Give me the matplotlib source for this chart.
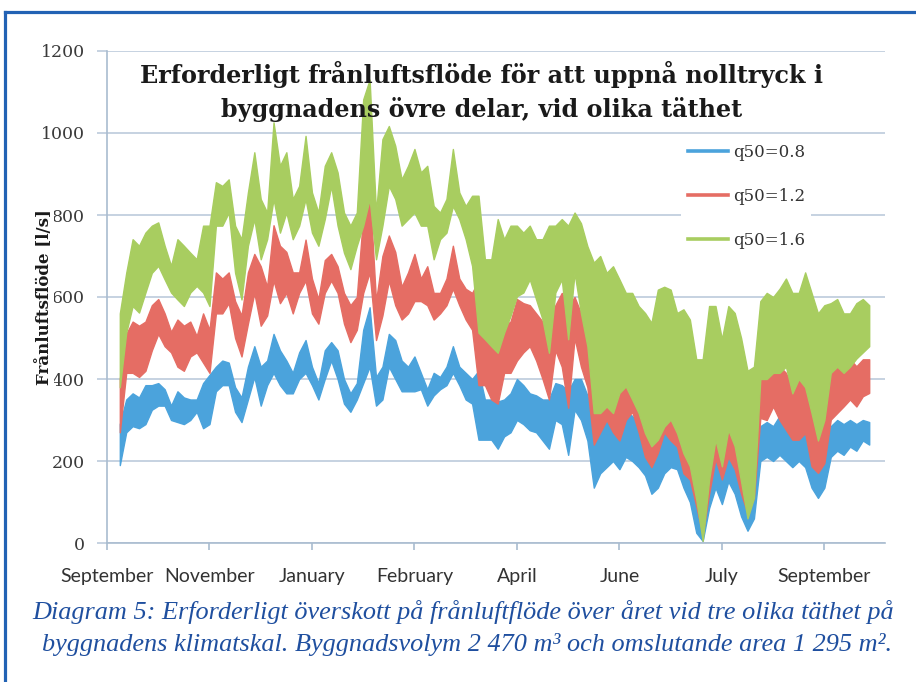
import numpy as np
import matplotlib
matplotlib.use('Agg')
import matplotlib.pyplot as plt
from matplotlib.lines import Line2D

# sample days of the record (every third day) with the low/high edge of each
# noisy hourly band
days = np.arange(6, 358, 3)

blue_lo = [190, 270, 285, 280, 290, 325, 335, 335, 300, 295, 290, 300, 320, 280, 290, 370,
           385, 385, 320, 295, 350, 405, 335, 385, 415, 385, 365, 365, 400, 415, 385, 350,
           400, 445, 400, 340, 320, 350, 390, 430, 335, 350, 430, 400, 370, 370, 370, 375,
           335, 360, 375, 385, 415, 385, 350, 340, 252, 252, 252, 230, 260, 270, 300, 290,
           275, 270, 250, 230, 300, 290, 215, 325, 300, 250, 135, 170, 185, 200, 180, 210,
           200, 185, 165, 120, 135, 170, 185, 180, 135, 100, 25, 5, 85, 135, 95, 150,
           120, 65, 30, 60, 200, 210, 200, 215, 200, 185, 200, 185, 135, 110, 135, 210,
           225, 215, 235, 225, 250, 240]
blue_hi = [290, 350, 365, 355, 385, 385, 390, 375, 335, 370, 355, 350, 350, 390, 410, 430,
           445, 440, 380, 355, 430, 480, 430, 445, 510, 470, 445, 415, 465, 495, 430, 390,
           470, 490, 470, 400, 365, 390, 520, 575, 405, 430, 510, 495, 445, 430, 455, 415,
           375, 415, 405, 430, 480, 430, 415, 400, 420, 350, 350, 345, 350, 365, 400, 385,
           365, 360, 350, 350, 390, 385, 370, 400, 400, 360, 285, 290, 300, 320, 300, 320,
           310, 285, 270, 245, 250, 270, 270, 260, 235, 228, 170, 140, 200, 250, 190, 250,
           230, 155, 105, 120, 285, 295, 285, 310, 295, 275, 285, 270, 230, 200, 230, 285,
           300, 290, 300, 290, 300, 295]

red_lo = [270, 415, 415, 405, 420, 470, 510, 480, 465, 430, 420, 455, 465, 440, 415, 560,
          560, 585, 500, 455, 535, 610, 530, 555, 640, 585, 610, 560, 610, 640, 560, 535,
          610, 640, 610, 535, 490, 520, 610, 660, 495, 555, 640, 580, 545, 560, 590, 590,
          580, 545, 560, 580, 620, 580, 545, 520, 385, 385, 350, 340, 415, 415, 445, 465,
          480, 445, 400, 350, 470, 430, 330, 500, 430, 380, 240, 270, 300, 270, 250, 300,
          320, 270, 210, 185, 220, 270, 250, 235, 170, 155, 90, 20, 120, 205, 155, 210,
          180, 120, 73, 110, 305, 300, 333, 300, 276, 252, 252, 268, 187, 171, 195, 301,
          317, 333, 350, 333, 358, 366]
red_hi = [400, 510, 540, 530, 540, 580, 595, 560, 515, 545, 530, 540, 505, 560, 520, 660,
          645, 660, 590, 555, 660, 705, 675, 625, 775, 725, 710, 660, 660, 740, 645, 595,
          690, 705, 675, 610, 580, 600, 800, 865, 590, 700, 750, 710, 625, 660, 705, 645,
          675, 610, 610, 645, 725, 645, 620, 610, 640, 515, 515, 500, 530, 540, 595, 585,
          580, 560, 540, 545, 580, 610, 580, 600, 560, 520, 430, 415, 430, 430, 365, 430,
          415, 400, 360, 320, 335, 385, 365, 320, 320, 295, 220, 155, 280, 335, 320, 365,
          360, 250, 155, 170, 410, 400, 423, 431, 415, 382, 431, 415, 317, 252, 350, 423,
          431, 431, 448, 431, 448, 448]

green_lo = [380, 513, 578, 562, 611, 659, 676, 643, 611, 594, 578, 611, 627, 611, 578, 774,
            774, 806, 659, 594, 725, 790, 692, 741, 839, 757, 806, 741, 774, 839, 757, 725,
            790, 871, 774, 708, 668, 725, 774, 839, 692, 774, 871, 839, 774, 790, 806, 774,
            774, 692, 741, 757, 822, 790, 741, 676, 513, 497, 480, 464, 513, 554, 602, 611,
            643, 594, 545, 464, 611, 643, 497, 659, 560, 480, 317, 317, 333, 317, 366, 382,
            350, 317, 268, 236, 252, 284, 301, 268, 219, 187, 106, 5, 154, 252, 187, 276,
            236, 150, 60, 110, 400, 400, 415, 415, 430, 365, 400, 380, 317, 250, 300, 415,
            430, 415, 430, 450, 465, 480]
green_hi = [560, 659, 741, 725, 757, 774, 782, 725, 676, 741, 725, 708, 692, 774, 774, 880,
            871, 887, 774, 741, 855, 953, 839, 806, 1026, 920, 953, 839, 871, 993, 855, 806,
            920, 953, 904, 806, 774, 806, 1082, 1130, 806, 985, 1017, 969, 887, 920, 961, 904,
            920, 822, 806, 839, 961, 855, 822, 847, 847, 692, 692, 790, 741, 774, 774, 757,
            774, 741, 741, 774, 774, 790, 774, 806, 780, 724, 684, 700, 659, 675, 643, 610,
            610, 578, 561, 537, 618, 625, 618, 561, 570, 545, 448, 448, 578, 578, 497, 578,
            561, 500, 420, 430, 590, 610, 600, 620, 645, 610, 610, 660, 610, 560, 580, 585,
            595, 560, 560, 585, 595, 580]

month_ticks = [0, 48, 96, 144, 192, 240, 288, 336]
month_labels = ['September', 'November', 'January', 'February', 'April', 'June', 'July', 'September']

series = [
    ('q50=0.8', blue_lo, blue_hi, '#4ba3dc'),
    ('q50=1.2', red_lo, red_hi, '#e56d64'),
    ('q50=1.6', green_lo, green_hi, '#a8cd60'),
]

W, H = 916, 682
fig = plt.figure(figsize=(W / 100, H / 100), dpi=100)
ax = fig.add_axes([107 / W, 1 - 543 / H, 778 / W, 492 / H])

grid_col = '#bccbdc'
for name, lo, hi, col in series:
    ax.fill_between(days, lo, hi, color=col, lw=1.0, edgecolor=col)

ax.set_xlim(0, 364.4)
ax.set_ylim(0, 1200)
ax.set_yticks(range(0, 1201, 200))
ax.set_xticks(month_ticks)
ax.set_xticklabels(month_labels)
ax.yaxis.grid(True, color=grid_col, lw=1.2)
ax.set_axisbelow(True)
for s in ['top', 'right']:
    ax.spines[s].set_visible(False)
for s in ['left', 'bottom']:
    ax.spines[s].set_color('#a9bccf')
    ax.spines[s].set_linewidth(1.2)

ax.tick_params(axis='y', length=7, width=1.2, color=grid_col, pad=9,
               labelsize=12.5, labelcolor='#3a3a3a')
ax.tick_params(axis='x', length=5, width=1.2, color='#a9bccf', pad=13,
               labelsize=14, labelcolor='#333333')
for t in ax.get_yticklabels():
    t.set_fontfamily('DejaVu Serif')
for t in ax.get_xticklabels():
    t.set_fontfamily('Lato')

handles = [Line2D([], [], color=c, lw=2.6) for _, _, _, c in series]
leg = ax.legend(handles, [n for n, _, _, _ in series], loc='upper left',
                bbox_to_anchor=((681 - 107) / 778, (543 - 137) / 492), borderaxespad=0,
                frameon=True, fancybox=False, edgecolor='none', facecolor='white',
                framealpha=1, prop={'family': 'DejaVu Serif', 'size': 12},
                handlelength=2.4, handletextpad=0.3, labelspacing=1.63, borderpad=0.4)
for t in leg.get_texts():
    t.set_color('#333333')

# title, two lines
fig.text(482 / W, 1 - 83 / H, 'Erforderligt frånluftsflöde för att uppnå nolltryck i',
         ha='center', va='baseline', fontsize=17.2, fontweight='bold',
         family='DejaVu Serif', color='#1a1a1a', zorder=10)
fig.text(482 / W, 1 - 117 / H, 'byggnadens övre delar, vid olika täthet',
         ha='center', va='baseline', fontsize=17.2, fontweight='bold',
         family='DejaVu Serif', color='#1a1a1a', zorder=10)

fig.text(45 / W, 1 - 297 / H, 'Frånluftsflöde [l/s]', rotation=90, ha='center', va='center',
         fontsize=12, fontweight='bold', family='DejaVu Serif', color='#1a1a1a',
         bbox=dict(facecolor='white', edgecolor='none', pad=0.5))

cap_col = '#1f4f9f'
fig.text(463 / W, 1 - 619 / H,
         'Diagram 5: Erforderligt överskott på frånluftflöde över året vid tre olika täthet på',
         ha='center', va='baseline', fontsize=18.9, style='italic',
         family='Liberation Serif', color=cap_col)
fig.text(467 / W, 1 - 651 / H,
         'byggnadens klimatskal. Byggnadsvolym 2 470 m³ och omslutande area 1 295 m².',
         ha='center', va='baseline', fontsize=18.9, style='italic',
         family='Liberation Serif', color=cap_col)

# blue frame round the figure (top and left edge visible)
border = '#2262b4'
fig.add_artist(Line2D([5 / W, 1], [1 - 11.5 / H, 1 - 11.5 / H], color=border, lw=2.3,
                      transform=fig.transFigure))
fig.add_artist(Line2D([5 / W, 5 / W], [0, 1 - 11.5 / H], color=border, lw=2.3,
                      transform=fig.transFigure))

fig.savefig('out.png', dpi=100)
